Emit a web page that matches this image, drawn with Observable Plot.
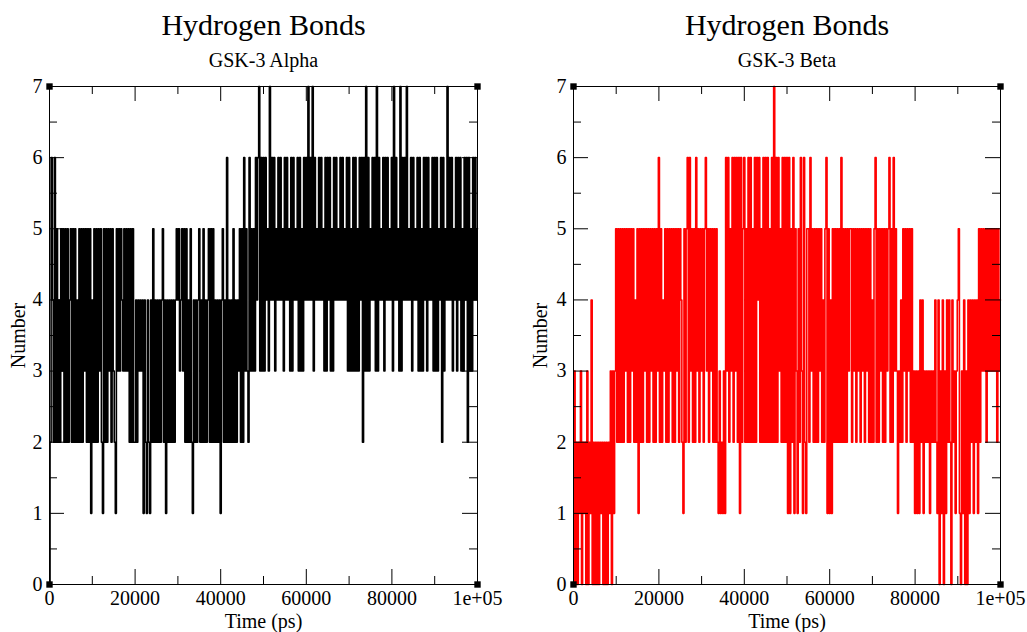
<!DOCTYPE html>
<html>
<head>
<meta charset="utf-8">
<script src="https://cdn.jsdelivr.net/npm/d3@7"></script>
<script src="https://cdn.jsdelivr.net/npm/@observablehq/plot@0.6"></script>
<style>
  body { margin: 0; background: #fff; }
  #wrap { position: relative; width: 1027px; height: 632px; overflow: hidden; background: #fff; }
  .panel { position: absolute; top: 0; }
</style>
</head>
<body>
<div id="wrap">
  <div id="pa" class="panel" style="left:0px"></div>
  <div id="pb" class="panel" style="left:513px"></div>
</div>
<script>
// ---- data: number of hydrogen bonds, one digit per 250 ps frame, 20 frames per chunk ----
const STEP_PS = 250;
const alphaChunks = [
  "02642625242535252524", "52525242525253525251", "42525253521525253525", "32153535435353525252",
  "24243434142142142524", "24242452414242424245", "45345352524252142424", "52425242452525242424",
  "14524262424252424352", "52635326353536467363", "63645374646354646453", "64645363645463635364",
  "64746473645464645363", "64635364645464645463", "63536363536462637363", "54646373645463646454",
  "63746453736464745463", "64546363536463645463", "63635462635474646354", "63646353646263536464"
];
const alphaLast = "5";
const betaChunks = [
  "03020213021203021402", "02020212020202130313", "52525252535252535242", "51525253525253525253",
  "62524352525352525352", "54215256263525263525", "35256352535252521312", "13163625362636261625",
  "62526262526264625262", "62625262726263526262", "61615261531526316215", "52635252525352425615",
  "14152525252625252535", "52535253525352535252", "42562525352525356252", "63531324253525352523",
  "13131424132323132324", "21403140314242042313", "45103140304142414241", "52535352535353535253"
];
const betaLast = "4";

const panelTitles = ["Hydrogen Bonds", "Hydrogen Bonds"];
const panelSubtitles = ["GSK-3 Alpha", "GSK-3 Beta"];
const seriesColors = ["#000000", "#ff0000"];
const xLabel = "Time (ps)";
const yLabel = "Number";

const xDomain = [0, 100000];
const yDomain = [0, 7];
const xMajor = [0, 20000, 40000, 60000, 80000, 100000];
const xMajorLabels = ["0", "20000", "40000", "60000", "80000", "1e+05"];
const xMinor = [10000, 30000, 50000, 70000, 90000];
const yMajor = [0, 1, 2, 3, 4, 5, 6, 7];
const yMajorLabels = ["0", "1", "2", "3", "4", "5", "6", "7"];
const yMinor = [0.5, 1.5, 2.5, 3.5, 4.5, 5.5, 6.5];

function series(chunks, last) {
  const digits = chunks.join("") + last;
  return Array.from(digits, (c, i) => ({t: i * STEP_PS, v: +c}));
}

const FONT = "'Liberation Serif', 'Times New Roman', Times, serif";

function panel({data, color, title, subtitle, width, mL, mR, ylabDx}) {
  const mT = 86, mB = 48, height = 632;
  const fw = width - mL - mR, fh = height - mT - mB;
  const MAJ = 15, MIN = 8;
  const corners = [
    {x: xDomain[0], y: yDomain[0]}, {x: xDomain[1], y: yDomain[0]},
    {x: xDomain[0], y: yDomain[1]}, {x: xDomain[1], y: yDomain[1]}
  ];
  return Plot.plot({
    width, height,
    marginLeft: mL, marginRight: mR, marginTop: mT, marginBottom: mB,
    style: {fontFamily: FONT, fontSize: "20px", background: "#fff", color: "#000", overflow: "visible"},
    x: {domain: xDomain, axis: null},
    y: {domain: yDomain, axis: null},
    marks: [
      Plot.line(data, {x: "t", y: "v", stroke: color, strokeWidth: 1.6, curve: "step"}),
      Plot.frame({stroke: "#000", strokeWidth: 1}),
      // inward ticks on all four sides
      Plot.tickX(xMajor, {x: d => d, insetTop: fh - MAJ, stroke: "#000"}),
      Plot.tickX(xMinor, {x: d => d, insetTop: fh - MIN, stroke: "#000"}),
      Plot.tickX(xMajor, {x: d => d, insetBottom: fh - MAJ, stroke: "#000"}),
      Plot.tickX(xMinor, {x: d => d, insetBottom: fh - MIN, stroke: "#000"}),
      Plot.tickY(yMajor, {y: d => d, insetRight: fw - MAJ, stroke: "#000"}),
      Plot.tickY(yMinor, {y: d => d, insetRight: fw - MIN, stroke: "#000"}),
      Plot.tickY(yMajor, {y: d => d, insetLeft: fw - MAJ, stroke: "#000"}),
      Plot.tickY(yMinor, {y: d => d, insetLeft: fw - MIN, stroke: "#000"}),
      Plot.axisX(xMajor, {anchor: "bottom", tickSize: 0, tickPadding: 6, fontSize: 20,
        tickFormat: d => xMajorLabels[xMajor.indexOf(d)], label: null}),
      Plot.axisY(yMajor, {anchor: "left", tickSize: 0, tickPadding: 7, fontSize: 20,
        tickFormat: d => yMajorLabels[yMajor.indexOf(d)], label: null}),
      Plot.dot(corners, {x: "x", y: "y", symbol: "square", r: 3.6, fill: "#000"}),
      Plot.text([xLabel], {text: d => d, frameAnchor: "bottom", lineAnchor: "middle", dy: 37, fontSize: 20}),
      Plot.text([yLabel], {text: d => d, frameAnchor: "left", textAnchor: "middle", lineAnchor: "middle", dx: ylabDx, rotate: -90, fontSize: 20}),
      Plot.text([title], {text: d => d, frameAnchor: "top", lineAnchor: "middle", dy: -61, fontSize: 30}),
      Plot.text([subtitle], {text: d => d, frameAnchor: "top", lineAnchor: "middle", dy: -26, fontSize: 20})
    ]
  });
}

document.getElementById("pa").append(panel({
  data: series(alphaChunks, alphaLast), color: seriesColors[0],
  title: panelTitles[0], subtitle: panelSubtitles[0],
  width: 513, mL: 49, mR: 36, ylabDx: -31
}));
document.getElementById("pb").append(panel({
  data: series(betaChunks, betaLast), color: seriesColors[1],
  title: panelTitles[1], subtitle: panelSubtitles[1],
  width: 514, mL: 60, mR: 27, ylabDx: -33
}));
</script>
</body>
</html>
